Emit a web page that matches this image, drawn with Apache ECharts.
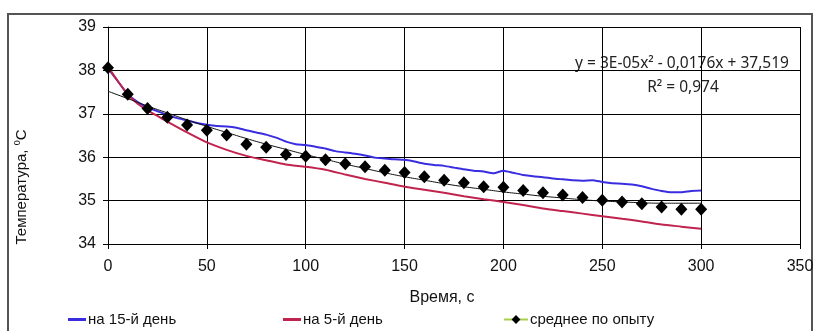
<!DOCTYPE html>
<html>
<head>
<meta charset="utf-8">
<script src="https://cdn.jsdelivr.net/npm/echarts@6/dist/echarts.min.js"></script>
<style>
html,body{margin:0;padding:0;background:#fff;}
#c{width:819px;height:331px;}
</style>
</head>
<body>
<div id="c"></div>
<script>
// ---- data ----
const xTicks = [0, 50, 100, 150, 200, 250, 300, 350];
const yTicks = [34, 35, 36, 37, 38, 39];

const avgTime = [0,10,20,30,40,50,60,70,80,90,100,110,120,130,140,150,160,170,180,190,200,210,220,230,240,250,260,270,280,290,300];
const avgTemp = [38.06,37.45,37.12,36.92,36.74,36.62,36.51,36.30,36.23,36.06,36.02,35.94,35.85,35.78,35.70,35.65,35.55,35.47,35.41,35.32,35.31,35.23,35.18,35.13,35.07,35.01,34.97,34.93,34.85,34.80,34.80];

const trendTime = [0,10,20,30,40,50,60,70,80,90,100,110,120,130,140,150,160,170,180,190,200,210,220,230,240,250,260,270,280,290,300];
const trendTemp = [37.52,37.35,37.18,37.02,36.86,36.71,36.57,36.43,36.30,36.18,36.06,35.95,35.84,35.74,35.64,35.55,35.47,35.39,35.32,35.26,35.20,35.15,35.10,35.06,35.02,34.99,34.97,34.95,34.94,34.94,34.94];

const day15Time = [0,5,10,15,20,25,30,35,40,45,50,55,60,65,70,75,80,85,90,95,100,105,110,115,120,125,130,135,140,145,150,155,160,165,170,175,180,185,190,195,200,205,210,215,220,225,230,235,240,245,250,255,260,265,270,275,280,285,290,295,300];
const day15Temp = [38.05,37.75,37.45,37.27,37.15,37.06,36.97,36.90,36.85,36.79,36.75,36.72,36.71,36.68,36.62,36.57,36.52,36.45,36.36,36.30,36.28,36.24,36.20,36.14,36.11,36.08,36.04,35.99,35.97,35.95,35.94,35.90,35.85,35.82,35.80,35.76,35.72,35.69,35.67,35.63,35.69,35.64,35.59,35.56,35.54,35.51,35.49,35.47,35.46,35.47,35.43,35.40,35.39,35.37,35.33,35.27,35.22,35.19,35.19,35.22,35.23];

const day5Time = [0,5,10,15,20,25,30,40,50,60,70,80,90,100,110,120,130,140,150,160,170,180,190,200,210,220,230,240,250,260,270,280,290,300];
const day5Temp = [38.08,37.75,37.45,37.23,37.08,36.95,36.82,36.57,36.34,36.17,36.03,35.93,35.83,35.78,35.71,35.60,35.50,35.41,35.32,35.25,35.18,35.10,35.03,34.97,34.90,34.82,34.76,34.70,34.64,34.58,34.52,34.45,34.40,34.35];

const seriesNames = ['на 15-й день', 'на 5-й день', 'среднее по опыту'];
const xTitle = 'Время, с';
const yTitle = 'Температура, {s|0}С';
const eqText = 'y = 3E-05x² - 0,0176x + 37,519';
const r2Text = 'R² = 0,974';

function pairs(xs, ys){ return xs.map((x,i)=>[x, ys[i]]); }

const FONT = '"Liberation Sans",Arial,sans-serif';

const chart = echarts.init(document.getElementById('c'), null, {renderer:'canvas'});

function legendFor(idx, left, color){
  return {
    show:true, left:left, top:312, padding:0,
    itemWidth:18, itemHeight:3, itemGap:0,
    textStyle:{fontFamily:FONT, fontSize:15, color:'#111', padding:[0,0,0,-3]},
    data:[{name:seriesNames[idx], icon:'rect', itemStyle:{color:color}}]
  };
}

chart.setOption({
  backgroundColor:'#fff',
  animation:false,
  grid:{left:108, right:19, top:27, bottom:87},
  xAxis:{
    type:'value', min:0, max:350, interval:50,
    axisLine:{show:true, lineStyle:{color:'#000', width:1}},
    axisTick:{show:true, length:5, lineStyle:{color:'#000'}},
    splitLine:{show:true, lineStyle:{color:'#000', width:1}},
    axisLabel:{fontFamily:FONT, fontSize:16, color:'#111', margin:15,
      formatter:function(v){ return xTicks.indexOf(v)>=0 ? String(v) : ''; }},
    name:xTitle, nameLocation:'middle', nameGap:46,
    nameTextStyle:{fontFamily:FONT, fontSize:16, color:'#111', padding:[0,24,0,0]}
  },
  yAxis:{
    type:'value', min:34, max:39, interval:1,
    axisLine:{show:true, lineStyle:{color:'#000', width:1}},
    axisTick:{show:true, length:5, lineStyle:{color:'#000'}},
    splitLine:{show:true, lineStyle:{color:'#000', width:1}},
    axisLabel:{fontFamily:FONT, fontSize:16, color:'#111', margin:12,
      formatter:function(v){ return yTicks.indexOf(v)>=0 ? String(v) : ''; }}
  },
  legend:[
    legendFor(0, 68, '#3a2de0'),
    legendFor(1, 283, '#c0244e'),
    {
      show:true, left:503, top:312, padding:0, itemWidth:24, itemHeight:11, itemGap:0,
      textStyle:{fontFamily:FONT, fontSize:15, color:'#111', padding:[0,0,0,-3]},
      data:[{name:seriesNames[2], lineStyle:{color:'#a8d04a', opacity:1, width:2}, itemStyle:{color:'#000'}}]
    }
  ],
  graphic:[
    {type:'rect', silent:true, z:-1, shape:{x:8, y:14, width:804, height:340},
      style:{fill:'none', stroke:'#555', lineWidth:2}},
    {type:'text', x:22, y:187, rotation:Math.PI/2,
      style:{text:yTitle, fontFamily:FONT, fontSize:15, fill:'#111', align:'center', verticalAlign:'middle',
        rich:{s:{fontSize:9, fontFamily:FONT, fill:'#111', padding:[0,0,8,0]}}}},
    {type:'text', x:682, y:64,
      style:{text:eqText, fontFamily:'"Noto Sans",sans-serif', fontSize:15.5, fill:'#222', align:'center', verticalAlign:'middle'}},
    {type:'text', x:683, y:88,
      style:{text:r2Text, fontFamily:'"Noto Sans",sans-serif', fontSize:15.5, fill:'#222', align:'center', verticalAlign:'middle'}}
  ],
  series:[
    {name:seriesNames[0], type:'line', data:pairs(day15Time, day15Temp), symbol:'none', smooth:0.2,
      lineStyle:{color:'#3a2de0', width:2}, itemStyle:{color:'#3a2de0'}, z:2},
    {name:seriesNames[1], type:'line', data:pairs(day5Time, day5Temp), symbol:'none', smooth:0.2,
      lineStyle:{color:'#c0244e', width:2}, itemStyle:{color:'#c0244e'}, z:2},
    {name:'trend', type:'line', data:pairs(trendTime, trendTemp), symbol:'none', smooth:true,
      lineStyle:{color:'#111', width:1}, z:3},
    {name:seriesNames[2], type:'line', data:pairs(avgTime, avgTemp), symbol:'diamond', symbolSize:[12,13],
      showSymbol:true, lineStyle:{color:'#a8d04a', opacity:0, width:2}, itemStyle:{color:'#000'}, z:4}
  ]
});
</script>
</body>
</html>
